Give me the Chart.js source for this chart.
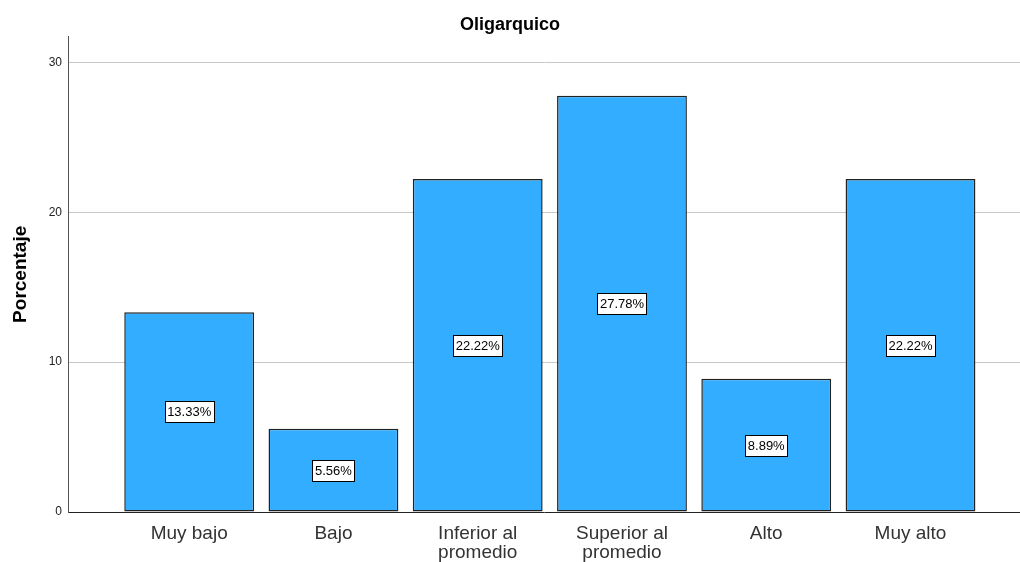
<!DOCTYPE html>
<html>
<head>
<meta charset="utf-8">
<script src="https://cdn.jsdelivr.net/npm/chart.js@4"></script>
<style>
  html, body { margin: 0; padding: 0; background: #fff; }
  #wrap { width: 1020px; height: 562px; }
</style>
</head>
<body>
<div id="wrap"><canvas id="chart"></canvas></div>
<script>
const categories = ["Muy bajo", "Bajo", ["Inferior al", "promedio"], ["Superior al", "promedio"], "Alto", "Muy alto"];
const percentages = [13.33, 5.56, 22.22, 27.78, 8.89, 22.22];
const yTicks = [0, 10, 20, 30];

const font = "'Liberation Sans', Arial, sans-serif";
const ctx = document.getElementById("chart").getContext("2d");

// value boxes in the middle of each bar
const valueLabels = {
  id: "valueLabels",
  afterDatasetsDraw(chart) {
    const c = chart.ctx;
    const meta = chart.getDatasetMeta(0);
    c.save();
    c.font = "13px " + font;
    c.textAlign = "center";
    c.textBaseline = "middle";
    meta.data.forEach((bar, i) => {
      const text = percentages[i].toFixed(2) + "%";
      const w = Math.round(c.measureText(text).width + 5);
      const h = 21;
      const x = bar.x;
      const y = (bar.y + bar.base) / 2;
      const left = Math.round(x - w / 2) + 0.5;
      const top = Math.round(y - h / 2) + 0.5;
      c.fillStyle = "#ffffff";
      c.fillRect(left, top, w, h);
      c.strokeStyle = "#000000";
      c.lineWidth = 1;
      c.strokeRect(left, top, w, h);
      c.fillStyle = "#000000";
      c.fillText(text, x, y + 1);
    });
    c.restore();
  },
};

new Chart(ctx, {
  type: "bar",
  data: {
    datasets: [
      {
        data: percentages.map((v, i) => ({ x: i + 1, y: v })),
        backgroundColor: "#33adff",
        borderColor: "#222222",
        borderWidth: 1.5,
        borderSkipped: false,
        barPercentage: 0.9,
        categoryPercentage: 1.0,
      },
    ],
  },
  options: {
    responsive: true,
    maintainAspectRatio: false,
    animation: false,
    layout: { padding: { left: 0, right: 0, top: 0, bottom: 0 } },
    plugins: {
      legend: { display: false },
      tooltip: { enabled: false },
      title: {
        display: true,
        text: "Oligarquico",
        color: "#000000",
        font: { family: font, size: 18, weight: "bold" },
        padding: { top: 14, bottom: 1 },
      },
    },
    scales: {
      x: {
        type: "linear",
        offset: false,
        min: 0.16,
        max: 6.759,
        afterBuildTicks: (axis) => {
          axis.ticks = categories.map((c, i) => ({ value: i + 1 }));
        },
        afterFit: (axis) => {
          axis.height = 50;
        },
        ticks: {
          color: "#333333",
          font: { family: font, size: 19, lineHeight: 1.0 },
          padding: 12,
          maxRotation: 0,
          autoSkip: false,
          callback: (v) => categories[v - 1],
        },
        grid: { display: false, drawTicks: false },
        border: { display: true, color: "#222222", width: 1 },
      },
      y: {
        min: 0,
        max: 31.73,
        afterBuildTicks: (axis) => {
          axis.ticks = yTicks.map((v) => ({ value: v }));
        },
        afterFit: (axis) => {
          axis.width = 68;
        },
        ticks: {
          color: "#222222",
          font: { family: font, size: 12 },
          padding: 6,
        },
        grid: {
          drawTicks: false,
          color: (c) => (c.tick && c.tick.value === 0 ? "rgba(0,0,0,0)" : "#c8c8c8"),
          lineWidth: 1,
        },
        border: { display: true, color: "#555555", width: 1 },
        title: {
          display: true,
          text: "Porcentaje",
          color: "#000000",
          font: { family: font, size: 19, weight: "bold" },
          padding: { top: 9, bottom: 0 },
        },
      },
    },
  },
  plugins: [valueLabels],
});
</script>
</body>
</html>
